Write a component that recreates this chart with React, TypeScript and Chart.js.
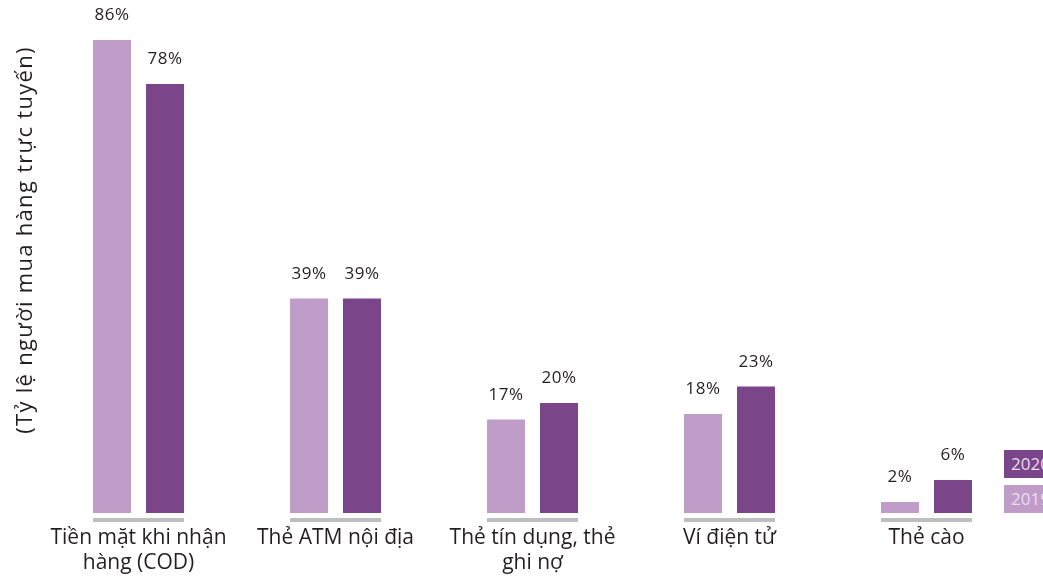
import React, { useEffect, useRef } from "react";
import { Chart, registerables } from "chart.js";

Chart.register(...registerables);

const categories: (string | string[])[] = [
  ["Tiền mặt khi nhận", "hàng (COD)"],
  "Thẻ ATM nội địa",
  ["Thẻ tín dụng, thẻ", "ghi nợ"],
  "Ví điện tử",
  "Thẻ cào",
];
const values2019 = [86, 39, 17, 18, 2];
const values2020 = [78, 39, 20, 23, 6];
const seriesLabels = ["2019", "2020"];
const yTitle = "(Tỷ lệ người mua hàng trực tuyến)";

const LIGHT = "#C09CC9";
const DARK = "#7B4589";
const GRAY = "#BDBEC0";
const TEXT = "#231F20";
const FONT = "'Open Sans', 'Noto Sans', sans-serif";

const decorPlugin = {
  id: "decor",
  afterDatasetsDraw(chart: any) {
    const ctx = chart.ctx;
    const area = chart.chartArea;
    const m0 = chart.getDatasetMeta(0);
    const m1 = chart.getDatasetMeta(1);
    ctx.save();
    // grey base segments under each category
    ctx.strokeStyle = GRAY;
    ctx.lineWidth = 4;
    m0.data.forEach((b0: any, i: number) => {
      const b1 = m1.data[i];
      const x0 = b0.x - b0.width / 2;
      const x1 = b1.x + b1.width / 2;
      ctx.beginPath();
      ctx.moveTo(x0, area.bottom + 7);
      ctx.lineTo(x1, area.bottom + 7);
      ctx.stroke();
    });
    // value labels
    ctx.fillStyle = TEXT;
    ctx.font = `17px ${FONT}`;
    ctx.textAlign = "center";
    ctx.textBaseline = "alphabetic";
    try { ctx.letterSpacing = "0.5px"; } catch (e) {}
    [m0, m1].forEach((meta: any, di: number) => {
      const vals = chart.data.datasets[di].data;
      meta.data.forEach((b: any, i: number) => {
        ctx.fillText(`${vals[i]}%`, b.x, b.y - 20);
      });
    });
    // y title
    ctx.font = `22px ${FONT}`;
    try { ctx.letterSpacing = "1.3px"; } catch (e) {}
    ctx.textBaseline = "middle";
    ctx.translate(26, 240);
    ctx.rotate(-Math.PI / 2);
    ctx.fillText(yTitle, 0, 0);
    ctx.restore();
  },
};

export default function App() {
  const ref = useRef<HTMLCanvasElement | null>(null);
  useEffect(() => {
    if (!ref.current) return;
    const chart = new Chart(ref.current, {
      type: "bar",
      data: {
        labels: categories,
        datasets: [
          { label: seriesLabels[0], data: values2019, backgroundColor: LIGHT },
          { label: seriesLabels[1], data: values2020, backgroundColor: DARK },
        ],
      },
      options: {
        responsive: true,
        maintainAspectRatio: false,
        animation: false,
        layout: { padding: { top: 40, left: 40, right: 18, bottom: 0 } },
        plugins: { legend: { display: false }, tooltip: { enabled: false } },
        datasets: { bar: { categoryPercentage: 0.538, barPercentage: 0.717 } },
        scales: {
          x: {
            grid: { display: false, drawTicks: false },
            border: { display: false },
            ticks: {
              color: TEXT,
              font: { family: FONT, size: 21, lineHeight: 1.2 },
              padding: 12,
              maxRotation: 0,
              autoSkip: false,
            },
            afterFit(scale: any) {
              scale.height = 69;
            },
          },
          y: { display: false, min: 0, max: 86 },
        },
      },
      plugins: [decorPlugin],
    } as any);
    return () => chart.destroy();
  }, []);

  const legendBox = (top: number, color: string, text: string) => (
    <div
      style={{
        position: "absolute",
        left: 1004,
        top,
        width: 60,
        height: 28,
        background: color,
        color: "#EADCEE",
        fontFamily: FONT,
        fontSize: 17,
        lineHeight: "28px",
        paddingLeft: 7,
        boxSizing: "border-box",
      }}
    >
      {text}
    </div>
  );

  return (
    <div
      style={{
        position: "fixed",
        left: 0,
        top: 0,
        width: 1043,
        height: 582,
        overflow: "hidden",
        background: "#fff",
      }}
    >
      <canvas ref={ref} />
      {legendBox(450, DARK, seriesLabels[1])}
      {legendBox(485, LIGHT, seriesLabels[0])}
    </div>
  );
}
